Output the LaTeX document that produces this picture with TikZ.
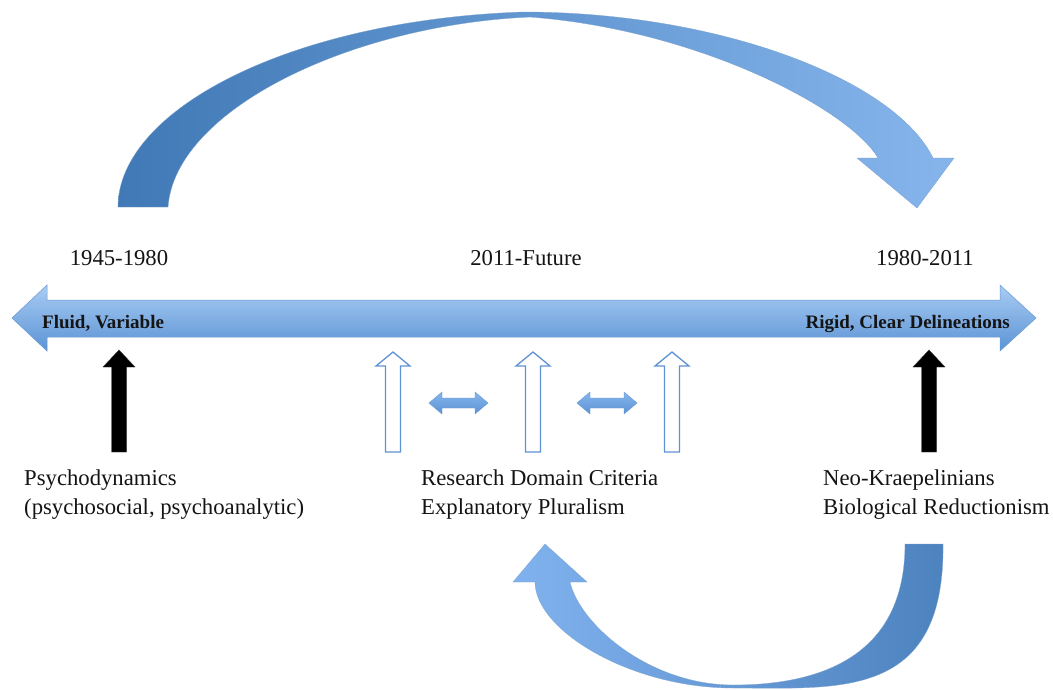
\documentclass[tikz,border=0pt]{standalone}
\usepackage{fontspec}
\setmainfont{Liberation Serif}
\definecolor{arcdark}{HTML}{4079B6}
\definecolor{arcmid}{HTML}{709DD3}
\definecolor{arclight}{HTML}{86B5EC}
\definecolor{botlight}{HTML}{80B2EE}
\definecolor{botmid}{HTML}{7EA8DC}
\definecolor{botdark}{HTML}{4C82BE}
\definecolor{bartop}{HTML}{A9CCF3}
\definecolor{barbot}{HTML}{5B93D5}
\definecolor{baredge}{HTML}{6A9AD2}
\definecolor{hollowedge}{HTML}{5E92D2}
\definecolor{txt}{HTML}{141414}
\tikzset{
  lbl/.style={inner sep=0pt, text=txt, font=\fontsize{22.7}{27}\selectfont},
  boldlbl/.style={inner sep=0pt, text=txt, font=\fontsize{19}{23}\selectfont\bfseries},
  hollow/.style={draw=hollowedge, fill=white, line width=1.3pt, line join=miter},
  solidup/.style={fill=black, draw=black!80, line width=0.4pt},
  smalldbl/.style={top color=arclight, bottom color=barbot, draw=baredge, line width=0.4pt}
}
\begin{document}
\begin{tikzpicture}[x=1pt,y=-1pt]
\useasboundingbox (0,0) rectangle (1053,689);
\fill[white] (0,0) rectangle (1053,689);

% top curved arrow
\shade[left color=arcdark, middle color=arcmid, right color=arclight, draw=arcdark!70, line width=0.3pt]
  (118,207) .. controls (118,110) and (290,20) .. (523,12)
  .. controls (720,12) and (895,80) .. (933,158)
  -- (954,158) -- (917,208) -- (857,158) -- (878,158)
  .. controls (850,110) and (700,30) .. (530,17)
  .. controls (350,25) and (175,110) .. (168,207) -- cycle;

% bottom curved arrow
\shade[left color=botlight, middle color=botmid, right color=botdark, draw=botdark!70, line width=0.3pt]
  (943,544) .. controls (945,700) and (840,688) .. (733,688)
  .. controls (630,688) and (535,630) .. (535,582)
  -- (513,582) -- (545,544) -- (587,582) -- (570,582)
  .. controls (580,625) and (650,685) .. (733,685)
  .. controls (830,685) and (905,650) .. (905,544) -- cycle;

% main double arrow
\shade[top color=bartop, bottom color=barbot, draw=baredge, line width=0.5pt]
  (12,318) -- (47,285) -- (47,300) -- (1000,300) -- (1000,285) -- (1036,318)
  -- (1000,351) -- (1000,337) -- (47,337) -- (47,351) -- cycle;

% solid black up arrows
\foreach \c in {119,929}{
  \filldraw[solidup] (\c,350) -- (\c+16,367) -- (\c+7.5,367) -- (\c+7.5,452)
    -- (\c-7.5,452) -- (\c-7.5,367) -- (\c-16,367) -- cycle;
}

% hollow up arrows
\foreach \c in {393,533,672}{
  \draw[hollow] (\c,352) -- (\c+17,366) -- (\c+7.5,366) -- (\c+7.5,452)
    -- (\c-7.5,452) -- (\c-7.5,366) -- (\c-17,366) -- cycle;
}

% small double arrows
\foreach \a/\b in {429/488,577/637}{
  \shade[smalldbl] (\a,403) -- (\a+13,392) -- (\a+13,398) -- (\b-13,398) -- (\b-13,392)
    -- (\b,403) -- (\b-13,414) -- (\b-13,408) -- (\a+13,408) -- (\a+13,414) -- cycle;
}

% labels
\node[lbl, anchor=base] (y1) at (119,265) {1945-1980};
\node[lbl, anchor=base] (y2) at (526,265) {2011-Future};
\node[lbl, anchor=base] (y3) at (925,265) {1980-2011};
\node[boldlbl, anchor=base west] (fluid) at (42,328) {Fluid, Variable};
\node[boldlbl, anchor=base east] (rigid) at (1010,328) {Rigid, Clear Delineations};

\node[lbl, anchor=base west] (psyA) at (24,485) {Psychodynamics};
\node[lbl, anchor=base west] (psyB) at (24,514) {(psychosocial, psychoanalytic)};
\node[lbl, anchor=base west] (rdcA) at (421,485) {Research Domain Criteria};
\node[lbl, anchor=base west] (rdcB) at (421,514) {Explanatory Pluralism};
\node[lbl, anchor=base west] (neoA) at (823,485) {Neo-Kraepelinians};
\node[lbl, anchor=base west] (neoB) at (823,514) {Biological Reductionism};
\end{tikzpicture}
\end{document}
